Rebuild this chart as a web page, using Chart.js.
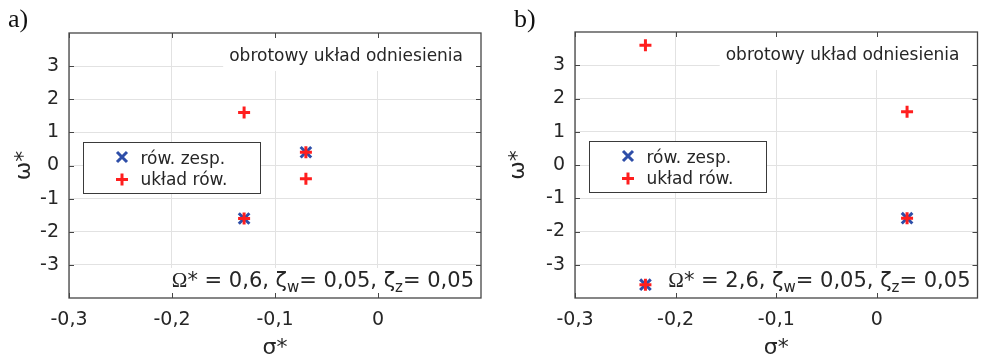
<!DOCTYPE html>
<html lang="pl">
<head>
<meta charset="UTF-8">
<title>bieguny</title>
<script src="https://cdn.jsdelivr.net/npm/chart.js"></script>
<style>
  body { margin: 0; background: #fff; }
  #wrap { position: relative; width: 988px; height: 357px; overflow: hidden; }
  canvas { position: absolute; top: 0; }
</style>
</head>
<body>
<div id="wrap">
  <canvas id="chartA" width="494" height="357" style="left:0"></canvas>
  <canvas id="chartB" width="494" height="357" style="left:494px"></canvas>
</div>
<script>
// axis ticks
const sigmaTicks = [-0.3, -0.2, -0.1, 0];
const omegaTicks = [-3, -2, -1, 0, 1, 2, 3];

// legend / text
const seriesLabels = ['rów. zesp.', 'układ rów.'];
const panelLetters = ['a)', 'b)'];
const frameTitle = 'obrotowy układ odniesienia';
const omegaValues = ['0,6', '2,6'];
const zetaW = '0,05';
const zetaZ = '0,05';

// panel a) - equivalent equation (x) and system of equations (+)
const eqA_sigma = [-0.13, -0.07];
const eqA_omega = [-1.6, 0.4];
const sysA_sigma = [-0.13, -0.07, -0.07, -0.13];
const sysA_omega = [1.6, 0.4, -0.4, -1.6];

// panel b)
const eqB_sigma = [0.03, -0.23];
const eqB_omega = [-1.6, -3.6];
const sysB_sigma = [-0.23, 0.03, 0.03, -0.23];
const sysB_omega = [3.6, 1.6, -1.6, -3.6];

const RED = '#ff1e1e';
const BLUE = '#2e4ea8';
const TXT = '#262626';
const GRID = '#e2e2e2';
const SANS = 'DejaVu Sans';

function fmt(v) {
  return v === 0 ? '0' : String(v).replace('.', ',');
}

function pts(xs, ys) {
  return xs.map((x, i) => ({ x: x, y: ys[i] }));
}

// box, inward ticks, annotations, legend
const frame = {
  id: 'frame',
  afterDatasetsDraw(chart, args, o) {
    const ctx = chart.ctx;
    const a = chart.chartArea;
    ctx.save();

    // top annotation
    ctx.font = '17px ' + SANS;
    const tw = ctx.measureText(frameTitle).width;
    const tx = a.right - 18 - tw;
    ctx.fillStyle = '#fff';
    ctx.fillRect(tx - 6, a.top, a.right - tx + 6, 38);
    ctx.fillStyle = TXT;
    ctx.textBaseline = 'alphabetic';
    ctx.fillText(frameTitle, tx, a.top + 28);

    // bottom annotation with subscripts
    const segs = [
      ['Ω', '21px "Liberation Serif"', 0],
      ['* = ' + o.omega + ', ζ', '21px ' + SANS, 0],
      ['w', '15px ' + SANS, 5],
      ['= ' + zetaW + ', ζ', '21px ' + SANS, 0],
      ['z', '15px ' + SANS, 5],
      ['= ' + zetaZ, '21px ' + SANS, 0]
    ];
    let total = 0;
    segs.forEach(s => { ctx.font = s[1]; total += ctx.measureText(s[0]).width; });
    let bx = a.right - 7 - total;
    const by = a.bottom - 11.5;
    ctx.fillStyle = '#fff';
    ctx.fillRect(bx - 3, a.bottom - 30, a.right - bx + 3, 30);
    ctx.fillStyle = TXT;
    segs.forEach(s => {
      ctx.font = s[1];
      ctx.fillText(s[0], bx, by + s[2]);
      bx += ctx.measureText(s[0]).width;
    });

    // legend
    const lx = a.left + 14.5, ly = a.top + 109.5, lw = 177, lh = 51;
    ctx.fillStyle = '#fff';
    ctx.fillRect(lx, ly, lw, lh);
    ctx.strokeStyle = '#3a3a3a';
    ctx.lineWidth = 1;
    ctx.strokeRect(lx, ly, lw, lh);
    ctx.lineWidth = 3;
    let mx = lx + 38.5, my = ly + 14.5;
    ctx.strokeStyle = BLUE;
    ctx.beginPath();
    ctx.moveTo(mx - 5, my - 5); ctx.lineTo(mx + 5, my + 5);
    ctx.moveTo(mx + 5, my - 5); ctx.lineTo(mx - 5, my + 5);
    ctx.stroke();
    my = ly + 37;
    ctx.strokeStyle = RED;
    ctx.beginPath();
    ctx.moveTo(mx - 6, my); ctx.lineTo(mx + 6, my);
    ctx.moveTo(mx, my - 6); ctx.lineTo(mx, my + 6);
    ctx.stroke();
    ctx.fillStyle = TXT;
    ctx.font = '17px ' + SANS;
    ctx.fillText(seriesLabels[0], lx + 57, ly + 21);
    ctx.fillText(seriesLabels[1], lx + 57, ly + 42);
    ctx.restore();
  },
  afterDraw(chart, args, o) {
    const ctx = chart.ctx;
    const a = chart.chartArea;
    const xs = chart.scales.x, ys = chart.scales.y;
    ctx.save();
    ctx.strokeStyle = '#454545';
    ctx.lineWidth = 1.3;
    ctx.strokeRect(a.left, a.top, a.right - a.left, a.bottom - a.top);
    ctx.lineWidth = 1;
    ctx.beginPath();
    sigmaTicks.forEach(v => {
      const p = Math.round(xs.getPixelForValue(v)) + 0.5;
      ctx.moveTo(p, a.top); ctx.lineTo(p, a.top + 5);
      ctx.moveTo(p, a.bottom); ctx.lineTo(p, a.bottom - 5);
    });
    omegaTicks.forEach(v => {
      const p = Math.round(ys.getPixelForValue(v)) + 0.5;
      ctx.moveTo(a.left, p); ctx.lineTo(a.left + 5, p);
      ctx.moveTo(a.right, p); ctx.lineTo(a.right - 5, p);
    });
    ctx.stroke();

    // panel letter
    ctx.fillStyle = '#111';
    ctx.font = '26px "Liberation Serif"';
    ctx.fillText(o.letter, o.letterX, 27);
    ctx.restore();
  }
};

function makePanel(id, eqS, eqW, sysS, sysW, cfg) {
  const tickFont = { family: SANS, size: 19 };
  return new Chart(document.getElementById(id), {
    type: 'scatter',
    data: {
      datasets: [
        {
          label: seriesLabels[1],
          data: pts(sysS, sysW),
          pointStyle: 'cross',
          pointRadius: 6,
          borderWidth: 3,
          borderColor: RED,
          backgroundColor: RED,
          order: 0
        },
        {
          label: seriesLabels[0],
          data: pts(eqS, eqW),
          pointStyle: 'crossRot',
          pointRadius: 7.5,
          borderWidth: 3,
          borderColor: BLUE,
          backgroundColor: BLUE,
          order: 1
        }
      ]
    },
    options: {
      responsive: false,
      animation: false,
      events: [],
      layout: { padding: { top: cfg.top, right: cfg.right, left: 0, bottom: 0 } },
      scales: {
        x: {
          type: 'linear',
          min: -0.3,
          max: 0.1,
          afterBuildTicks: s => { s.ticks = sigmaTicks.map(v => ({ value: v })); },
          afterFit: s => { s.height = 59; },
          grid: { color: GRID, drawTicks: false },
          border: { display: false },
          ticks: { padding: 11, font: tickFont, color: TXT, maxRotation: 0, autoSkip: false, callback: v => fmt(v) },
          title: { display: true, text: 'σ*', color: TXT, font: { family: SANS, size: 22, lineHeight: 1 }, padding: { top: 0, bottom: -2 } }
        },
        y: {
          type: 'linear',
          min: -4,
          max: 4,
          afterBuildTicks: s => { s.ticks = omegaTicks.map(v => ({ value: v })); },
          afterFit: s => { s.width = cfg.yWidth; },
          grid: { color: GRID, drawTicks: false },
          border: { display: false },
          ticks: { padding: 10, font: tickFont, color: TXT, callback: v => fmt(v) },
          title: { display: true, text: 'ω*', color: TXT, font: { family: SANS, size: 22, lineHeight: 1 }, padding: { top: cfg.titlePad, bottom: 0 } }
        }
      },
      plugins: {
        legend: { display: false },
        tooltip: { enabled: false },
        frame: cfg
      }
    },
    plugins: [frame]
  });
}

makePanel('chartA', eqA_sigma, eqA_omega, sysA_sigma, sysA_omega,
  { top: 33, right: 13, yWidth: 69, titlePad: 13, omega: omegaValues[0], letter: panelLetters[0], letterX: 8 });
makePanel('chartB', eqB_sigma, eqB_omega, sysB_sigma, sysB_omega,
  { top: 32, right: 1, yWidth: 81, titlePad: 13, omega: omegaValues[1], letter: panelLetters[1], letterX: 20 });
</script>
</body>
</html>
